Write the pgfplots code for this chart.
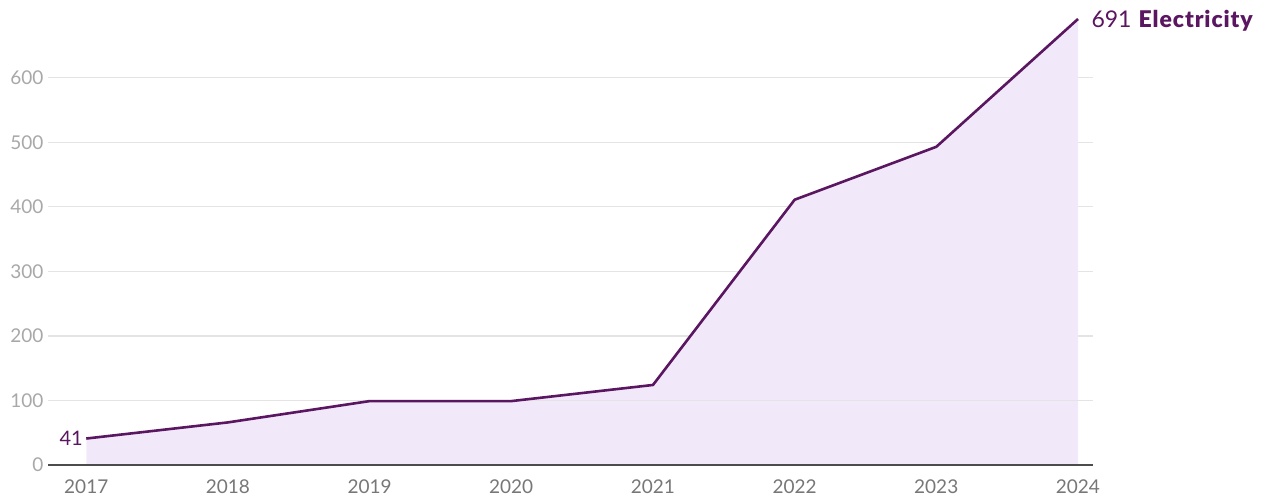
\documentclass[border=0pt]{standalone}
\usepackage{fontspec}
\setmainfont{Lato}
\newfontfamily\blackfont{Lato Black}
\usepackage{pgfplots}
\pgfplotsset{compat=1.18}
\definecolor{linec}{HTML}{5A1660}
\definecolor{fillc}{HTML}{F1E9FA}
\definecolor{gridc}{HTML}{E4E4E4}
\definecolor{ytc}{HTML}{A8A8A8}
\definecolor{xtc}{HTML}{777777}
\begin{document}
\begin{tikzpicture}[x=1pt,y=1pt]
\useasboundingbox (0,0) rectangle (1272,495);
\begin{axis}[
  at={(48pt,30pt)}, anchor=south west,
  scale only axis, width=1045pt, height=446pt,
  xmin=2016.73, xmax=2024.106, ymin=0, ymax=691,
  axis line style={draw=none},
  xtick={2017,...,2024}, ytick={0,100,...,600},
  xticklabel style={font=\fontsize{19}{22}\selectfont, text=xtc, yshift=-11pt},
  yticklabel style={font=\fontsize{19}{22}\selectfont, text=ytc, xshift=-1pt},
  /pgf/number format/assume math mode=true,
  xticklabel={\pgfmathprintnumber[1000 sep={}]{\tick}},
  major tick length=0pt,
  ymajorgrids, grid style={gridc, line width=1.2pt},
  clip=false,
]
\addplot[fill=fillc, draw=none] coordinates {(2017,41)(2018,66)(2019,99)(2020,99)(2021,124)(2022,411)(2023,493)(2024,691)} \closedcycle;
\addplot[draw=gridc, line width=1.2pt] coordinates {(2016.73,100)(2024.106,100)};
\addplot[linec, line width=2.6pt, line join=round] coordinates {(2017,41)(2018,66)(2019,99)(2020,99)(2021,124)(2022,411)(2023,493)(2024,691)};
\draw[color=black!70, line width=1.5pt] (rel axis cs:0,0) -- (rel axis cs:1,0);
\node[anchor=east, text=linec, font=\fontsize{20}{22}\selectfont] at (axis cs:2017,41) {41\hspace{3pt}};
\node[anchor=west, text=linec, font=\fontsize{23}{26}\selectfont, yshift=-2pt] at (axis cs:2024,691) {\hspace{10pt}691\hspace{7pt}{\blackfont\addfontfeatures{LetterSpace=4}Electricity}};
\end{axis}
\end{tikzpicture}
\end{document}
